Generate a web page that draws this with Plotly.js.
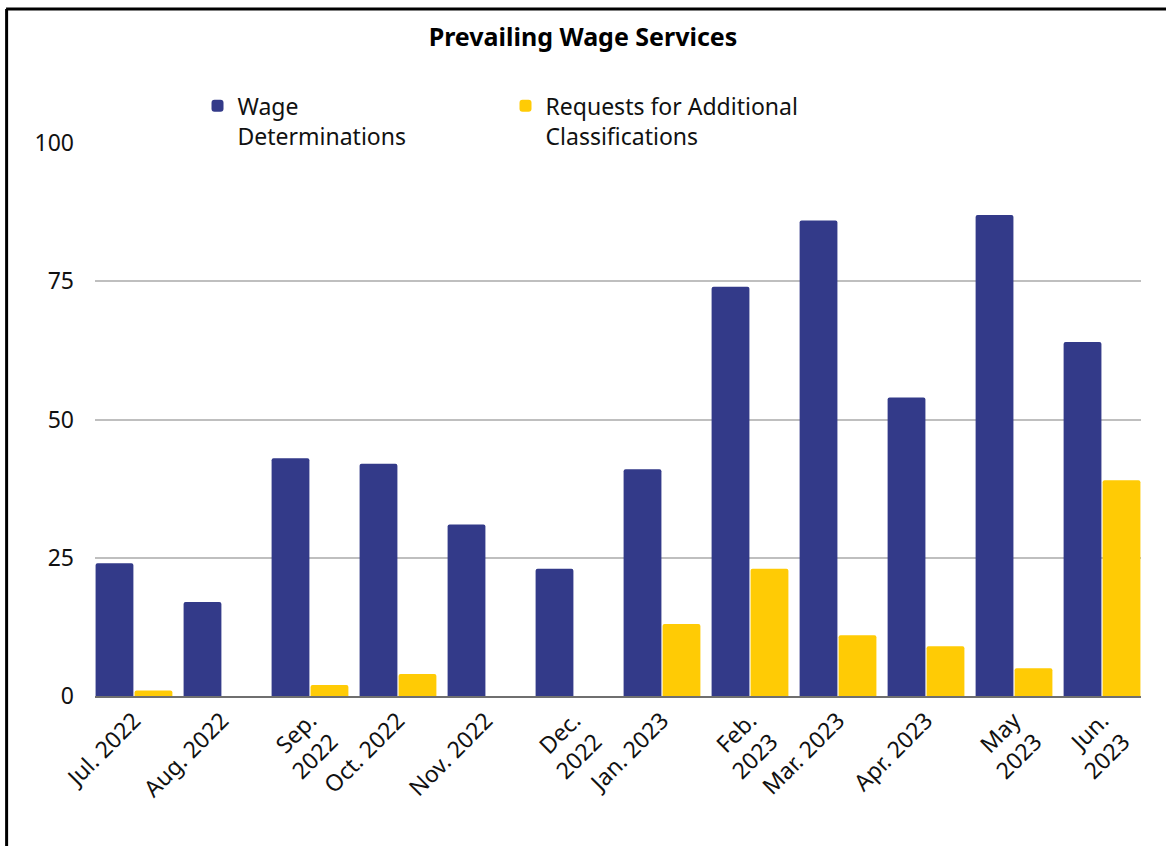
<!DOCTYPE html>
<html>
<head>
<meta charset="utf-8">
<script src="https://cdn.plot.ly/plotly-3.0.1.min.js"></script>
<style>
html,body{margin:0;padding:0;background:#fff;}
#chart{width:1166px;height:846px;}
</style>
</head>
<body>
<div id="chart"></div>
<script>
const categories = ["Jul. 2022","Aug. 2022","Sep.<br>2022","Oct. 2022","Nov. 2022","Dec.<br>2022","Jan. 2023","Feb.<br>2023","Mar. 2023","Apr. 2023","May<br>2023","Jun.<br>2023"];
const wageDeterminations = [24,17,43,42,31,23,41,74,86,54,87,64];
const additionalClassifications = [1,0,2,4,0,0,13,23,11,9,5,39];
const seriesNames = ["Wage<br>Determinations","Requests for Additional<br>Classifications"];
const yTicks = [0,25,50,75,100];

const FONT = "Noto Sans, Open Sans, sans-serif";
const idx = categories.map((c,i)=>i);

const traces = [
  {type:'bar', x:idx, y:wageDeterminations, name:seriesNames[0],
   marker:{color:'#333a89', cornerradius:2}, hoverinfo:'y'},
  {type:'bar', x:idx, y:additionalClassifications, name:seriesNames[1],
   marker:{color:'#ffcb05', cornerradius:2}, hoverinfo:'y'}
];

const layout = {
  width:1166, height:846,
  margin:{l:95, r:25, t:143, b:150},
  paper_bgcolor:'#ffffff', plot_bgcolor:'#ffffff',
  font:{family:FONT, size:23, color:'#111111'},
  title:{text:'<b>Prevailing Wage Services</b>', font:{family:FONT, size:25, color:'#000000'},
         x:0.5, xanchor:'center', xref:'container', y:0.956, yanchor:'middle', yref:'container'},
  barmode:'group', bargap:0.114, bargroupgap:0.03,
  showlegend:true,
  legend:{orientation:'h', x:0.098, xanchor:'left', y:1.04, yanchor:'middle', valign:'top',
          font:{family:FONT, size:23, color:'#111111'}, bgcolor:'rgba(0,0,0,0)',
          entrywidth:263, entrywidthmode:'pixels', traceorder:'normal'},
  xaxis:{tickmode:'array', tickvals:idx, ticktext:categories, tickangle:-45,
         range:[-0.443, categories.length-1+0.443], showgrid:false, zeroline:false,
         showline:true, linecolor:'#6f6f6f', linewidth:2, ticks:'', ticklabelstandoff:0,
         tickfont:{family:FONT, size:23, color:'#111111'}},
  yaxis:{range:[0,100], tickmode:'array', tickvals:yTicks, ticktext:yTicks.map(String),
         showgrid:true, gridcolor:'#bfbfbf', gridwidth:1.5, zeroline:false,
         showline:false, ticks:'', ticklabelstandoff:20,
         tickfont:{family:FONT, size:23, color:'#111111'}},
  shapes:[
    {type:'line', xref:'paper', yref:'paper', x0:-0.085, x1:1.05, y0:1.2425, y1:1.2425,
     line:{color:'#000000', width:3}},
    {type:'line', xref:'paper', yref:'paper', x0:-0.0845, x1:-0.0845, y0:1.2425, y1:-0.3,
     line:{color:'#000000', width:3}}
  ]
};

Plotly.newPlot('chart', traces, layout, {displayModeBar:false, responsive:false});
</script>
</body>
</html>
